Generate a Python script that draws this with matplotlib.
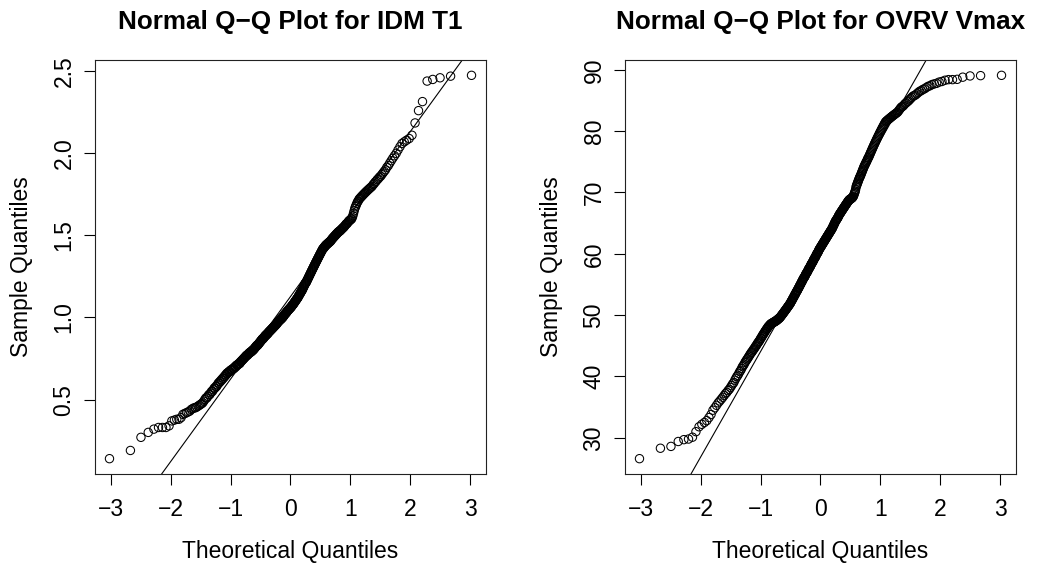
import matplotlib
matplotlib.use("Agg")
import matplotlib.pyplot as plt
import numpy as np
from statistics import NormalDist

plt.rcParams['font.family'] = ['Liberation Sans', 'DejaVu Sans']

# Sorted sample values (n = 400 each)
idm_t1 = [
    0.14, 0.19, 0.27, 0.30, 0.32, 0.33, 0.33, 0.33, 0.34, 0.37,
    0.375, 0.38, 0.38, 0.39, 0.41, 0.415, 0.42, 0.425, 0.43, 0.44,
    0.445, 0.45, 0.45, 0.455, 0.46, 0.465, 0.47, 0.475, 0.48, 0.49,
    0.50, 0.51, 0.51, 0.52, 0.53, 0.53, 0.54, 0.55, 0.55, 0.56,
    0.57, 0.57, 0.58, 0.58, 0.59, 0.60, 0.60, 0.61, 0.61, 0.62,
    0.62, 0.63, 0.63, 0.64, 0.64, 0.65, 0.65, 0.66, 0.66, 0.665,
    0.67, 0.67, 0.67, 0.68, 0.68, 0.68, 0.685, 0.69, 0.69, 0.69,
    0.70, 0.70, 0.70, 0.71, 0.71, 0.71, 0.715, 0.72, 0.72, 0.72,
    0.73, 0.73, 0.735, 0.74, 0.74, 0.745, 0.75, 0.75, 0.755, 0.76,
    0.76, 0.765, 0.77, 0.77, 0.77, 0.775, 0.78, 0.78, 0.785, 0.785,
    0.79, 0.79, 0.79, 0.795, 0.80, 0.80, 0.80, 0.805, 0.81, 0.81,
    0.815, 0.82, 0.82, 0.825, 0.83, 0.83, 0.83, 0.835, 0.84, 0.84,
    0.845, 0.85, 0.85, 0.855, 0.86, 0.86, 0.865, 0.87, 0.87, 0.87,
    0.875, 0.88, 0.88, 0.885, 0.89, 0.89, 0.89, 0.895, 0.90, 0.90,
    0.90, 0.905, 0.91, 0.91, 0.915, 0.915, 0.92, 0.92, 0.925, 0.925,
    0.93, 0.93, 0.935, 0.935, 0.94, 0.94, 0.945, 0.945, 0.95, 0.95,
    0.955, 0.955, 0.96, 0.96, 0.965, 0.97, 0.97, 0.975, 0.975, 0.98,
    0.98, 0.985, 0.985, 0.99, 0.99, 0.99, 0.995, 1.00, 1.00, 1.00,
    1.005, 1.01, 1.01, 1.015, 1.02, 1.02, 1.025, 1.025, 1.03, 1.03,
    1.035, 1.04, 1.04, 1.045, 1.045, 1.05, 1.05, 1.055, 1.055, 1.06,
    1.06, 1.065, 1.065, 1.07, 1.075, 1.075, 1.08, 1.08, 1.085, 1.09,
    1.09, 1.095, 1.10, 1.10, 1.105, 1.11, 1.11, 1.115, 1.12, 1.12,
    1.125, 1.13, 1.135, 1.14, 1.14, 1.145, 1.15, 1.155, 1.16, 1.16,
    1.165, 1.17, 1.175, 1.18, 1.185, 1.19, 1.195, 1.20, 1.205, 1.21,
    1.21, 1.215, 1.22, 1.225, 1.23, 1.235, 1.24, 1.245, 1.25, 1.255,
    1.26, 1.265, 1.27, 1.275, 1.28, 1.285, 1.29, 1.295, 1.30, 1.305,
    1.31, 1.315, 1.32, 1.325, 1.33, 1.335, 1.34, 1.345, 1.35, 1.355,
    1.36, 1.365, 1.37, 1.375, 1.38, 1.385, 1.39, 1.395, 1.40, 1.405,
    1.41, 1.415, 1.42, 1.42, 1.425, 1.43, 1.43, 1.435, 1.44, 1.44,
    1.445, 1.445, 1.45, 1.45, 1.455, 1.455, 1.46, 1.46, 1.465, 1.465,
    1.47, 1.475, 1.48, 1.48, 1.485, 1.49, 1.49, 1.495, 1.50, 1.50,
    1.505, 1.51, 1.51, 1.515, 1.52, 1.52, 1.525, 1.525, 1.53, 1.53,
    1.535, 1.54, 1.54, 1.545, 1.55, 1.55, 1.555, 1.56, 1.565, 1.57,
    1.57, 1.575, 1.58, 1.585, 1.59, 1.59, 1.595, 1.60, 1.60, 1.61,
    1.62, 1.635, 1.65, 1.665, 1.675, 1.685, 1.695, 1.705, 1.71, 1.72,
    1.725, 1.73, 1.735, 1.74, 1.745, 1.75, 1.755, 1.76, 1.765, 1.77,
    1.775, 1.78, 1.785, 1.79, 1.795, 1.80, 1.81, 1.815, 1.825, 1.83,
    1.84, 1.845, 1.855, 1.86, 1.87, 1.88, 1.89, 1.90, 1.915, 1.925,
    1.94, 1.955, 1.97, 1.985, 2.00, 2.02, 2.04, 2.06, 2.07, 2.08,
    2.09, 2.11, 2.185, 2.26, 2.315, 2.44, 2.45, 2.46, 2.47, 2.475,
]

ovrv_vmax = [
    26.6, 28.3, 28.6, 29.4, 29.7, 29.8, 30.1, 31.0, 31.8, 32.2,
    32.5, 32.8, 33.3, 33.8, 34.5, 34.9, 35.3, 35.7, 36.0, 36.3,
    36.6, 36.9, 37.2, 37.4, 37.7, 37.9, 38.2, 38.5, 38.8, 39.0,
    39.4, 39.7, 40.0, 40.2, 40.5, 40.8, 41.0, 41.3, 41.6, 41.8,
    42.0, 42.3, 42.5, 42.7, 42.9, 43.1, 43.3, 43.5, 43.7, 43.9,
    44.0, 44.2, 44.4, 44.5, 44.7, 44.9, 45.0, 45.2, 45.4, 45.5,
    45.7, 45.8, 46.0, 46.2, 46.3, 46.5, 46.7, 46.8, 47.0, 47.1,
    47.3, 47.4, 47.6, 47.7, 47.8, 48.0, 48.1, 48.2, 48.3, 48.4,
    48.5, 48.6, 48.6, 48.7, 48.7, 48.8, 48.8, 48.9, 48.9, 49.0,
    49.0, 49.1, 49.1, 49.2, 49.3, 49.3, 49.4, 49.5, 49.5, 49.6,
    49.7, 49.8, 49.9, 50.0, 50.1, 50.2, 50.3, 50.4, 50.5, 50.6,
    50.7, 50.8, 50.9, 51.0, 51.1, 51.2, 51.3, 51.4, 51.5, 51.6,
    51.7, 51.8, 51.9, 52.0, 52.2, 52.3, 52.4, 52.5, 52.7, 52.8,
    52.9, 53.0, 53.2, 53.3, 53.4, 53.5, 53.7, 53.8, 53.9, 54.0,
    54.1, 54.3, 54.4, 54.5, 54.6, 54.8, 54.9, 55.0, 55.1, 55.3,
    55.4, 55.5, 55.6, 55.8, 55.9, 56.0, 56.1, 56.2, 56.3, 56.4,
    56.6, 56.7, 56.8, 56.9, 57.0, 57.1, 57.2, 57.4, 57.5, 57.6,
    57.7, 57.8, 57.9, 58.0, 58.2, 58.3, 58.4, 58.5, 58.6, 58.7,
    58.8, 59.0, 59.1, 59.2, 59.3, 59.4, 59.5, 59.6, 59.8, 59.9,
    60.0, 60.1, 60.2, 60.3, 60.4, 60.6, 60.7, 60.8, 60.9, 61.0,
    61.1, 61.2, 61.3, 61.4, 61.5, 61.6, 61.7, 61.8, 61.9, 62.0,
    62.1, 62.2, 62.3, 62.4, 62.5, 62.6, 62.7, 62.8, 62.9, 63.0,
    63.1, 63.2, 63.3, 63.4, 63.5, 63.6, 63.7, 63.8, 63.9, 64.0,
    64.1, 64.2, 64.4, 64.5, 64.6, 64.8, 64.9, 65.0, 65.2, 65.3,
    65.4, 65.5, 65.6, 65.7, 65.8, 65.9, 66.0, 66.2, 66.3, 66.4,
    66.5, 66.6, 66.7, 66.8, 66.9, 67.0, 67.1, 67.2, 67.3, 67.4,
    67.5, 67.6, 67.7, 67.8, 67.9, 68.0, 68.1, 68.2, 68.3, 68.4,
    68.5, 68.6, 68.7, 68.8, 68.8, 68.9, 68.9, 69.0, 69.0, 69.1,
    69.1, 69.2, 69.3, 69.4, 69.6, 69.8, 70.0, 70.2, 70.5, 70.9,
    71.1, 71.3, 71.5, 71.7, 71.9, 72.1, 72.3, 72.5, 72.6, 72.8,
    73.0, 73.2, 73.4, 73.6, 73.8, 74.0, 74.2, 74.4, 74.5, 74.7,
    74.9, 75.0, 75.2, 75.4, 75.6, 75.7, 75.9, 76.1, 76.3, 76.5,
    76.7, 76.9, 77.1, 77.3, 77.5, 77.7, 77.9, 78.1, 78.3, 78.5,
    78.7, 78.9, 79.1, 79.3, 79.5, 79.7, 79.9, 80.1, 80.3, 80.5,
    80.7, 80.9, 81.1, 81.3, 81.5, 81.6, 81.7, 81.8, 81.9, 82.0,
    82.1, 82.2, 82.3, 82.4, 82.5, 82.6, 82.7, 82.8, 82.9, 83.0,
    83.1, 83.3, 83.5, 83.7, 83.9, 84.0, 84.1, 84.3, 84.5, 84.6,
    84.8, 84.9, 85.1, 85.3, 85.5, 85.7, 85.8, 85.9, 86.1, 86.3,
    86.5, 86.6, 86.8, 86.9, 87.1, 87.3, 87.4, 87.6, 87.7, 87.8,
    88.0, 88.1, 88.3, 88.4, 88.4, 88.45, 88.8, 89.0, 89.05, 89.1,
]

titles = ["Normal Q\u2212Q Plot for IDM T1", "Normal Q\u2212Q Plot for OVRV Vmax"]
x_ticks = [-3, -2, -1, 0, 1, 2, 3]
y_ticks_left = [0.5, 1.0, 1.5, 2.0, 2.5]
y_ticks_right = [30, 40, 50, 60, 70, 80, 90]
y_ticklabels_left = ["0.5", "1.0", "1.5", "2.0", "2.5"]
y_ticklabels_right = ["30", "40", "50", "60", "70", "80", "90"]

W, H = 1059, 566
fig = plt.figure(figsize=(W / 100, H / 100), dpi=100)
nd = NormalDist()
FS = 16.5


def qq_panel(ax, sample, title, yticks, yticklabels):
    y = np.sort(np.asarray(sample, dtype=float))
    n = len(y)
    p = (np.arange(1, n + 1) - 0.5) / n
    x = np.array([nd.inv_cdf(pi) for pi in p])
    ax.scatter(x, y, s=36, facecolors='none', edgecolors='black', linewidths=0.75, zorder=3)
    # qqline through the quartiles
    yq = np.quantile(y, [0.25, 0.75])
    xq = np.array([nd.inv_cdf(0.25), nd.inv_cdf(0.75)])
    slope = (yq[1] - yq[0]) / (xq[1] - xq[0])
    inter = yq[0] - slope * xq[0]
    ax.axline((0, inter), slope=slope, color='black', lw=0.8, zorder=2)
    rx = x.max() - x.min()
    ry = y.max() - y.min()
    ax.set_xlim(x.min() - 0.04 * rx, x.max() + 0.04 * rx)
    ax.set_ylim(y.min() - 0.04 * ry, y.max() + 0.04 * ry)
    ax.set_xticks(x_ticks)
    ax.set_xticklabels([str(t).replace('-', '\u2212') for t in x_ticks])
    ax.set_yticks(yticks)
    ax.set_yticklabels(yticklabels, rotation=90, va='center')
    ax.tick_params(direction='out', length=8, width=0.8, labelsize=FS, colors='black')
    ax.tick_params(axis='x', pad=9)
    ax.tick_params(axis='y', pad=6)
    for s in ax.spines.values():
        s.set_linewidth(0.8)
        s.set_color('#222222')
    ax.set_xlabel("Theoretical Quantiles", fontsize=FS, labelpad=14)
    ax.set_ylabel("Sample Quantiles", fontsize=FS, labelpad=14)
    ax.set_title(title, fontsize=18.8, fontweight='bold', pad=22)


bottom = (H - 474) / H
height = 414 / H
ax1 = fig.add_axes([95 / W, bottom, 391 / W, height])
ax2 = fig.add_axes([625 / W, bottom, 391 / W, height])
qq_panel(ax1, idm_t1, titles[0], y_ticks_left, y_ticklabels_left)
qq_panel(ax2, ovrv_vmax, titles[1], y_ticks_right, y_ticklabels_right)

fig.savefig("out.png", dpi=100, facecolor='white')
